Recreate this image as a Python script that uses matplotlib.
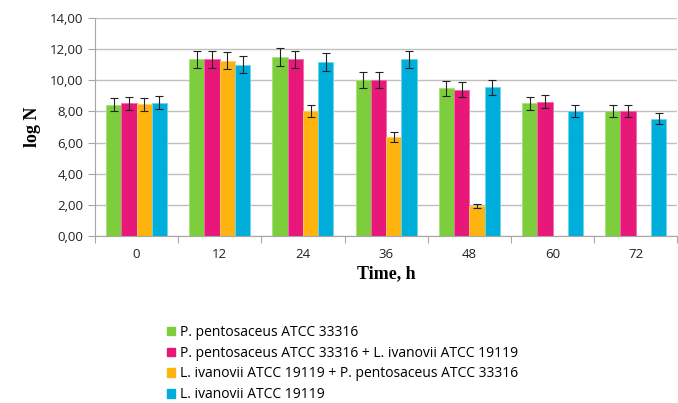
import numpy as np
import matplotlib.pyplot as plt
from matplotlib.patches import Patch

nan = np.nan
times = ['0', '12', '24', '36', '48', '60', '72']
labels = ['P. pentosaceus ATCC 33316',
          'P. pentosaceus ATCC 33316 + L. ivanovii ATCC 19119',
          'L. ivanovii ATCC 19119 + P. pentosaceus ATCC 33316',
          'L. ivanovii ATCC 19119']

green = [8.43, 11.34, 11.51, 10.03, 9.50, 8.51, 8.04]
green_err = [0.43, 0.55, 0.58, 0.50, 0.48, 0.43, 0.40]
pink = [8.51, 11.34, 11.34, 10.03, 9.39, 8.62, 8.04]
pink_err = [0.42, 0.55, 0.55, 0.50, 0.47, 0.43, 0.40]
orange = [8.47, 11.26, 8.02, 6.37, 1.93, nan, nan]
orange_err = [0.42, 0.55, 0.40, 0.34, 0.12, nan, nan]
blue = [8.55, 11.00, 11.17, 11.34, 9.56, 8.04, 7.53]
blue_err = [0.42, 0.55, 0.56, 0.56, 0.48, 0.40, 0.36]

series = [green, pink, orange, blue]
errors = [green_err, pink_err, orange_err, blue_err]
colors = ['#7DCE3C', '#E8177A', '#FFB30F', '#00AEDB']
edges = ['#A8E07A', '#F26AAA', '#FFCF66', '#6FD4EE']

plt.rcParams['font.family'] = ['Open Sans', 'DejaVu Sans']

fig = plt.figure(figsize=(6.78, 4.03), dpi=100)
ax = fig.add_axes([0.140, 0.4144, 0.999 - 0.140, 0.9553 - 0.4144])

x = np.arange(len(times))
w = 0.183
for i, (vals, err) in enumerate(zip(series, errors)):
    pos = x + (i - 1.5) * w
    ax.bar(pos, vals, width=w, color=colors[i], edgecolor=edges[i], linewidth=0.6, zorder=2)
    ax.errorbar(pos, vals, yerr=err, fmt='none', ecolor='#222222', elinewidth=0.8,
                capsize=3, capthick=0.8, zorder=3)

ax.set_xlim(-0.5, 6.5)
ax.set_ylim(0, 14)
yt = np.arange(0, 15, 2)
ax.set_yticks(yt)
ax.set_yticklabels([('%.2f' % v).replace('.', ',') for v in yt])
ax.set_xticks(x)
ax.set_xticklabels(times)
ax.set_xticks(np.arange(-0.5, 7, 1), minor=True)
ax.tick_params(axis='x', which='major', length=0, pad=9, labelsize=9.5, labelcolor='#222222')
ax.tick_params(axis='x', which='minor', length=5, color='#A6A6A6', width=0.8)
ax.tick_params(axis='y', length=5, color='#A6A6A6', width=0.8, labelsize=9.5, labelcolor='#222222')

ax.grid(axis='y', color='#BFBFBF', linewidth=1, zorder=0)
ax.set_axisbelow(True)
for s in ['top', 'right']:
    ax.spines[s].set_visible(False)
for s in ['left', 'bottom']:
    ax.spines[s].set_color('#A6A6A6')
    ax.spines[s].set_linewidth(0.8)

ax.set_ylabel('log N', family='Liberation Serif', fontweight='bold', fontsize=13, labelpad=6)
ax.set_xlabel('Time, h', family='Liberation Serif', fontweight='bold', fontsize=13, labelpad=3)

handles = [Patch(facecolor=c, edgecolor=c) for c in colors]
fig.legend(handles, labels, loc='upper left', bbox_to_anchor=(0.247, 0.194), frameon=False,
           fontsize=10, handlelength=0.55, handleheight=0.55, handletextpad=0.35,
           labelspacing=0.42, borderpad=0, borderaxespad=0)

fig.savefig('out.png', dpi=100)
